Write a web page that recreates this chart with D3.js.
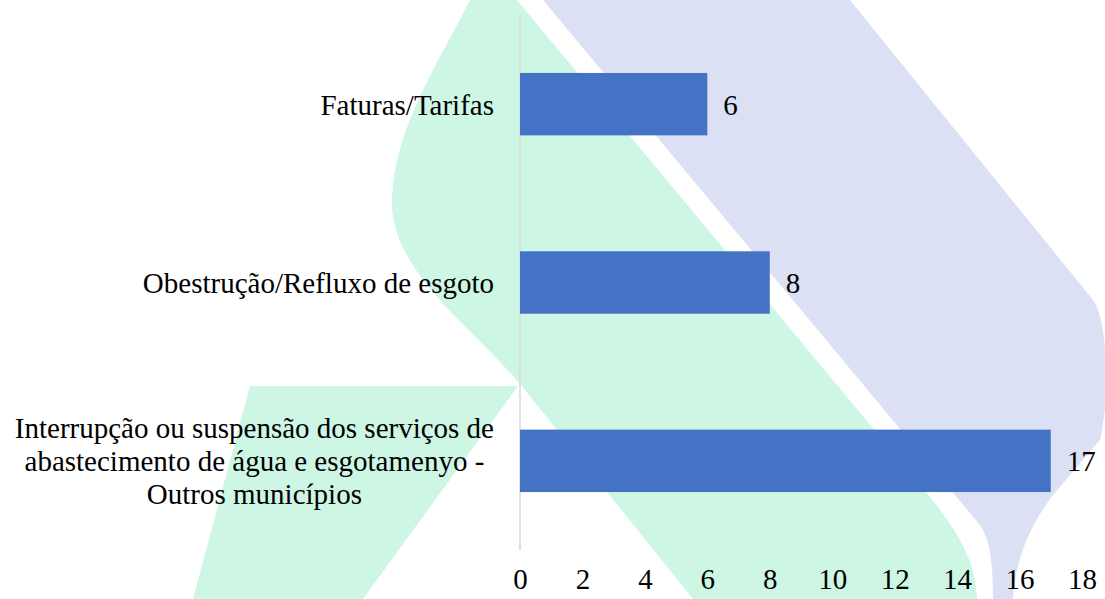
<!DOCTYPE html>
<html>
<head>
<meta charset="utf-8">
<script src="https://cdn.jsdelivr.net/npm/d3@7"></script>
<style>
  body {margin: 0; background: #fff;}
  svg {display: block;}
  text {font-family: 'Liberation Serif', 'Times New Roman', serif; fill: #000;}
</style>
</head>
<body>
<script>
const categories = [
  'Faturas/Tarifas',
  'Obestrução/Refluxo de esgoto',
  'Interrupção ou suspensão dos serviços de abastecimento de água e esgotamenyo - Outros municípios'
]
const values = [6, 8, 17]
const ticks = [0, 2, 4, 6, 8, 10, 12, 14, 16, 18]

const svgWidth = 1105
const svgHeight = 599
const fontSize = 29

const svg = d3.select('body').append('svg')
  .attr('width', svgWidth).attr('height', svgHeight)

// watermark behind the chart
const bg = svg.append('g')
bg.append('path')
  .attr('fill', '#dce0f5')
  .attr('d', 'M543,0 L850,0 L1093,300 C1108,320 1110,400 1100,440 L1053,495 C1030,525 1015,560 1013,599 L993,599 C993,560 990,540 980,525 Z')
bg.append('path')
  .attr('fill', '#cdf6e4')
  .attr('d', 'M470,0 L517,0 L930,497 C960,535 975,560 977,599 L693,599 L520,384 C470,325 390,270 392,200 C393,130 440,60 470,0 Z')
bg.append('path')
  .attr('fill', '#cdf6e4')
  .attr('d', 'M250,386 L518,386 L363,599 L193,599 Z')

const x = d3.scaleLinear().domain([0, 18]).range([520, 1082])
const y = d3.scaleBand().domain(categories).range([15, 550])
  .paddingInner(0.65).paddingOuter(0.325)

// vertical axis line
svg.append('line')
  .attr('x1', x(0)).attr('x2', x(0))
  .attr('y1', y.range()[0]).attr('y2', y.range()[1])
  .attr('stroke', '#d9d9d9').attr('stroke-width', 1.5)

// x tick labels
const xAxis = svg.append('g')
  .attr('transform', `translate(0, 568)`)
  .call(d3.axisBottom(x).tickValues(ticks).tickSize(0).tickPadding(0))
xAxis.select('.domain').remove()
xAxis.selectAll('text')
  .attr('font-size', fontSize)
  .attr('font-family', 'Liberation Serif')
  .attr('dy', '0.71em')
  .attr('fill', '#000')

// bars
svg.append('g').selectAll('rect').data(categories).enter().append('rect')
  .attr('x', x(0))
  .attr('y', d => y(d))
  .attr('width', (d, i) => x(values[i]) - x(0))
  .attr('height', y.bandwidth())
  .attr('fill', '#4472c4')

// value labels
svg.append('g').selectAll('text').data(categories).enter().append('text')
  .attr('x', (d, i) => x(values[i]) + 16)
  .attr('y', d => y(d) + y.bandwidth() / 2 + 10.5)
  .attr('font-size', fontSize)
  .text((d, i) => values[i])

// category labels, wrapped and centred like the original
const labelRight = 494
const maxWidth = 500
const lineH = 33
const measure = svg.append('text').attr('font-size', fontSize)
function wrap(str) {
  const words = str.split(' ')
  const lines = []
  let cur = ''
  words.forEach(w => {
    const test = cur ? cur + ' ' + w : w
    measure.text(test)
    if (measure.node().getComputedTextLength() > maxWidth && cur) {
      lines.push(cur)
      cur = w
    } else {
      cur = test
    }
  })
  lines.push(cur)
  return lines
}
function width(s) {
  measure.text(s)
  return measure.node().getComputedTextLength()
}

categories.forEach(c => {
  const lines = wrap(c)
  const w = d3.max(lines, width)
  const cy = y(c) + y.bandwidth() / 2
  const t = svg.append('text')
    .attr('font-size', fontSize)
    .attr('text-anchor', 'middle')
  lines.forEach((l, i) => {
    t.append('tspan')
      .attr('x', labelRight - w / 2)
      .attr('y', cy + 10.5 + (i - (lines.length - 1) / 2) * lineH)
      .text(l)
  })
})
measure.remove()
</script>
</body>
</html>
